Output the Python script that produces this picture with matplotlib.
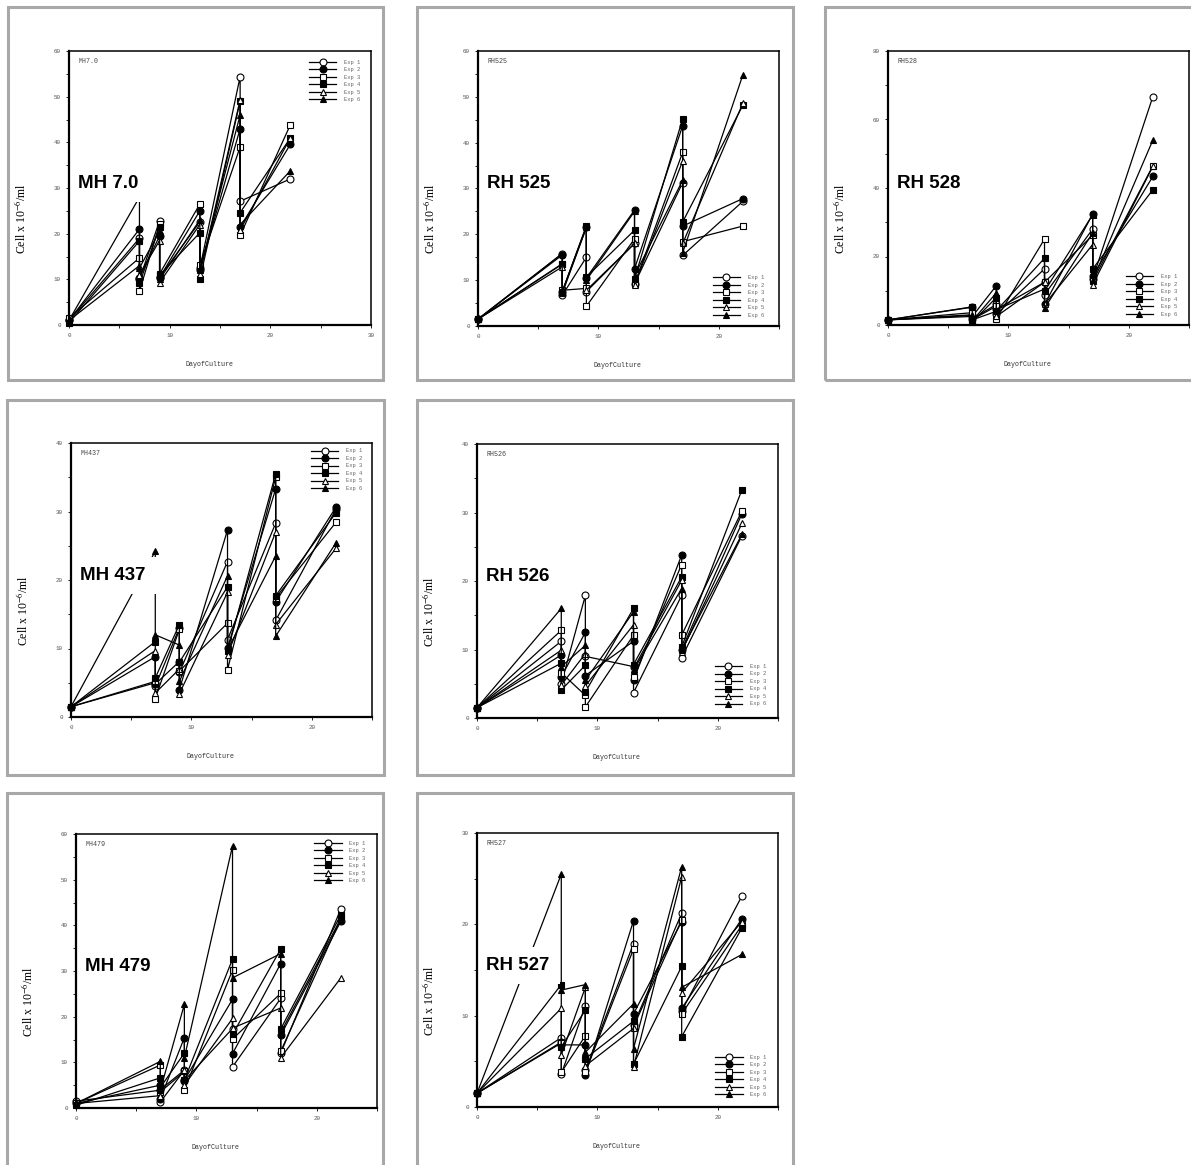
import matplotlib.pyplot as plt
from matplotlib.patches import Rectangle
from matplotlib.ticker import MultipleLocator

W, H = 1191, 1165

# sampling days: growth value then post-split value at each passage
DAYS = [0, 7, 7, 9, 9, 13, 13, 17, 17, 22]
EXP_LABELS = ["Exp 1", "Exp 2", "Exp 3", "Exp 4", "Exp 5", "Exp 6"]

MH70 = [
    [1.0, 19.0, 10.0, 22.8, 10.5, 22.6, 12.4, 54.4, 27.1, 32.0],
    [1.0, 21.0, 10.4, 19.5, 10.4, 25.0, 12.0, 43.0, 21.4, 39.6],
    [1.5, 14.7, 7.4, 22.1, 11.2, 26.5, 13.1, 39.0, 19.6, 43.9],
    [0.5, 18.4, 9.1, 21.5, 10.9, 20.2, 10.1, 49.0, 24.6, 41.0],
    [1.0, 13.0, 11.0, 18.5, 9.3, 22.0, 11.2, 49.3, 20.8, 41.0],
    [1.0, 28.0, 12.5, 20.5, 10.0, 23.0, 12.0, 46.0, 22.0, 33.8],
]
RH525 = [
    [1.5, 15.8, 6.7, 15.0, 7.5, 18.0, 9.2, 31.3, 15.4, 27.2],
    [1.5, 15.5, 7.5, 21.5, 10.5, 25.3, 12.5, 43.7, 21.8, 27.8],
    [1.5, 13.5, 7.8, 8.2, 4.3, 19.0, 9.2, 37.9, 18.4, 21.8],
    [1.5, 13.6, 7.5, 21.8, 10.7, 20.9, 10.3, 45.2, 22.7, 48.2],
    [1.5, 12.9, 7.1, 21.5, 7.8, 18.0, 9.0, 36.0, 18.0, 48.6],
    [1.5, 15.8, 7.5, 21.8, 10.0, 25.0, 11.0, 31.8, 16.0, 54.8],
]
RH528 = [
    [1.5, 3.0, 1.8, 6.0, 3.1, 16.4, 8.9, 28.0, 13.5, 66.7],
    [1.5, 5.3, 2.5, 11.5, 4.6, 12.5, 6.0, 32.4, 14.3, 43.4],
    [1.5, 3.6, 1.6, 5.5, 1.8, 25.1, 12.5, 26.2, 12.8, 46.5],
    [1.5, 5.2, 0.9, 8.0, 4.2, 19.5, 9.9, 32.2, 16.4, 39.5],
    [1.5, 2.8, 1.5, 4.0, 2.5, 12.5, 6.0, 23.5, 11.8, 46.3],
    [1.5, 2.5, 1.2, 9.4, 4.5, 10.5, 4.9, 26.9, 13.0, 54.0],
]
MH437 = [
    [1.5, 5.0, 4.5, 13.0, 6.5, 22.7, 11.3, 28.3, 14.1, 30.3],
    [1.5, 8.8, 4.8, 8.1, 4.0, 27.3, 10.1, 33.3, 16.8, 30.6],
    [1.5, 5.2, 2.7, 12.8, 6.7, 13.7, 6.9, 35.0, 17.4, 28.4],
    [1.5, 11.0, 5.7, 13.5, 8.0, 19.0, 9.6, 35.5, 17.7, 29.8],
    [1.5, 9.7, 3.5, 7.0, 3.4, 18.2, 9.1, 27.0, 13.5, 24.6],
    [1.5, 24.2, 12.0, 10.5, 5.2, 20.6, 9.8, 23.5, 11.8, 25.4],
]
RH526 = [
    [1.5, 11.2, 5.0, 17.9, 9.0, 7.5, 3.7, 17.9, 8.8, 26.6],
    [1.5, 9.2, 6.0, 12.5, 6.2, 11.2, 5.5, 23.8, 10.0, 29.8],
    [1.5, 12.8, 6.6, 3.3, 1.6, 12.1, 6.0, 22.4, 12.1, 30.2],
    [1.5, 8.0, 4.1, 7.7, 3.8, 16.0, 7.8, 20.6, 10.4, 33.3],
    [1.5, 9.9, 4.8, 9.4, 4.7, 13.6, 7.2, 20.1, 9.7, 28.4],
    [1.5, 16.0, 7.5, 10.6, 5.5, 15.5, 7.0, 18.9, 9.9, 26.8],
]
MH479 = [
    [1.5, 3.9, 1.3, 8.3, 6.0, 17.4, 9.0, 24.0, 12.0, 43.6],
    [1.0, 5.0, 2.0, 15.4, 6.1, 23.8, 11.9, 31.6, 15.9, 40.9],
    [1.0, 9.4, 3.5, 8.0, 4.0, 30.2, 15.1, 25.1, 12.4, 41.5],
    [0.6, 6.6, 4.5, 12.0, 6.1, 32.6, 16.1, 34.8, 17.3, 42.3],
    [1.0, 2.7, 4.0, 8.3, 5.0, 19.6, 17.5, 21.9, 11.0, 28.5],
    [1.0, 10.2, 3.9, 22.7, 11.0, 57.4, 28.5, 33.8, 16.5, 41.5],
]
RH527 = [
    [1.5, 7.6, 3.6, 11.1, 4.0, 17.9, 9.0, 21.2, 10.5, 23.1],
    [1.5, 7.1, 6.8, 6.8, 3.5, 20.4, 10.2, 20.3, 10.8, 20.6],
    [1.5, 7.0, 3.8, 7.8, 3.8, 17.3, 8.8, 20.5, 10.2, 19.9],
    [1.5, 13.4, 6.6, 10.6, 5.3, 9.4, 4.7, 15.4, 7.7, 19.6],
    [1.5, 10.8, 5.7, 13.1, 4.5, 8.6, 4.4, 25.2, 12.5, 20.3],
    [1.5, 25.5, 12.8, 13.4, 6.0, 11.3, 6.4, 26.3, 13.1, 16.7],
]

# name, inner tag, data, x max, y max, y step
PANELS = [
    ("MH 7.0", "MH7.0", MH70, 30, 60, 10),
    ("RH 525", "RH525", RH525, 25, 60, 10),
    ("RH 528", "RH528", RH528, 25, 80, 20),
    ("MH 437", "MH437", MH437, 25, 40, 10),
    ("RH 526", "RH526", RH526, 25, 40, 10),
    ("MH 479", "MH479", MH479, 25, 60, 10),
    ("RH 527", "RH527", RH527, 25, 30, 10),
]

# pixel layout: axes box (l, t, r, b), outer frame (l, t, r, b), legend anchor
LAYOUT = {
    "MH 7.0": ((69, 51, 371, 325), (8, 7, 383, 380), ("upper right", 0.965, 0.968)),
    "RH 525": ((478, 51, 779, 326), (417, 7, 793, 380), ("lower right", 0.95, 0.03)),
    "RH 528": ((888, 51, 1189, 325), (825, 7, 1200, 380), ("lower right", 0.96, 0.03)),
    "MH 437": ((71, 443, 372, 717), (7, 400, 384, 775), ("upper right", 0.968, 0.98)),
    "RH 526": ((477, 444, 778, 718), (417, 400, 793, 775), ("lower right", 0.96, 0.042)),
    "MH 479": ((76, 834, 377, 1108), (7, 793, 383, 1175), ("upper right", 0.962, 0.975)),
    "RH 527": ((477, 833, 778, 1107), (417, 793, 793, 1175), ("lower right", 0.962, 0.035)),
}

MARKERS = [("o", "white"), ("o", "black"), ("s", "white"),
           ("s", "black"), ("^", "white"), ("^", "black")]
MONO = "Liberation Mono"

plt.rcParams["mathtext.fontset"] = "stix"


def px_rect(l, t, r, b):
    return [l / W, 1 - b / H, (r - l) / W, (b - t) / H]


def draw_panel(fig, name, tag, data, xmax, ymax, ystep):
    ax_px, frame_px, (loc, lx, ly) = LAYOUT[name]

    fl, ft, fr, fb = frame_px
    fig.patches.append(Rectangle((fl / W, 1 - fb / H), (fr - fl) / W, (fb - ft) / H,
                                 transform=fig.transFigure, fill=False, zorder=10,
                                 edgecolor="#a8a8a8", linewidth=2.2))

    ax = fig.add_axes(px_rect(*ax_px))
    handles = []
    for values, label, (mk, face) in zip(data, EXP_LABELS, MARKERS):
        line, = ax.plot(DAYS, values, color="black", linewidth=0.9,
                        marker=mk, markersize=5, markerfacecolor=face,
                        markeredgecolor="black", markeredgewidth=0.8,
                        label=label, clip_on=False)
        handles.append(line)

    ax.set_xlim(0, xmax)
    ax.set_ylim(0, ymax)
    ax.xaxis.set_major_locator(MultipleLocator(10))
    ax.xaxis.set_minor_locator(MultipleLocator(5))
    ax.yaxis.set_major_locator(MultipleLocator(ystep))
    ax.yaxis.set_minor_locator(MultipleLocator(ystep / 2))
    ax.tick_params(which="both", direction="out", length=2, width=0.6,
                   labelsize=4.2, labelcolor="#555555", pad=4)
    for lab in ax.get_xticklabels() + ax.get_yticklabels():
        lab.set_family(MONO)
    for side in ("left", "bottom"):
        ax.spines[side].set_linewidth(1.6)
    for side in ("top", "right"):
        ax.spines[side].set_linewidth(1.1)

    ax.set_xlabel("DayofCulture", family=MONO, fontsize=4.8, color="#333333")
    ax.xaxis.set_label_coords(0.465, -0.13)
    ax.set_ylabel(r"Cell x 10$^{-6}$/ml", family="Liberation Serif", fontsize=8.5)
    ax.yaxis.set_label_coords(-0.135, 0.39)

    ax.text(0.033, 0.963, tag, transform=ax.transAxes, family=MONO,
            fontsize=4.8, color="#444444", va="center", ha="left")
    # white box hides the data lines but sits under the spines
    ax.text(0.03, 0.5, name, transform=ax.transAxes, family="Liberation Sans",
            fontweight="bold", fontsize=13.5, va="baseline", ha="left", zorder=2.3,
            bbox=dict(boxstyle="square,pad=0.55", facecolor="white", edgecolor="none"))

    ax.legend(handles=handles, loc=loc, bbox_to_anchor=(lx, ly), frameon=False,
              prop={"family": MONO, "size": 4}, labelcolor="#666666",
              handlelength=4.9, handletextpad=1.4, labelspacing=0.45,
              borderpad=0, borderaxespad=0)
    return ax


fig = plt.figure(figsize=(W / 100, H / 100), dpi=100)
fig.patch.set_facecolor("white")
for panel in PANELS:
    draw_panel(fig, *panel)

fig.savefig("out.png", dpi=100, facecolor="white")
